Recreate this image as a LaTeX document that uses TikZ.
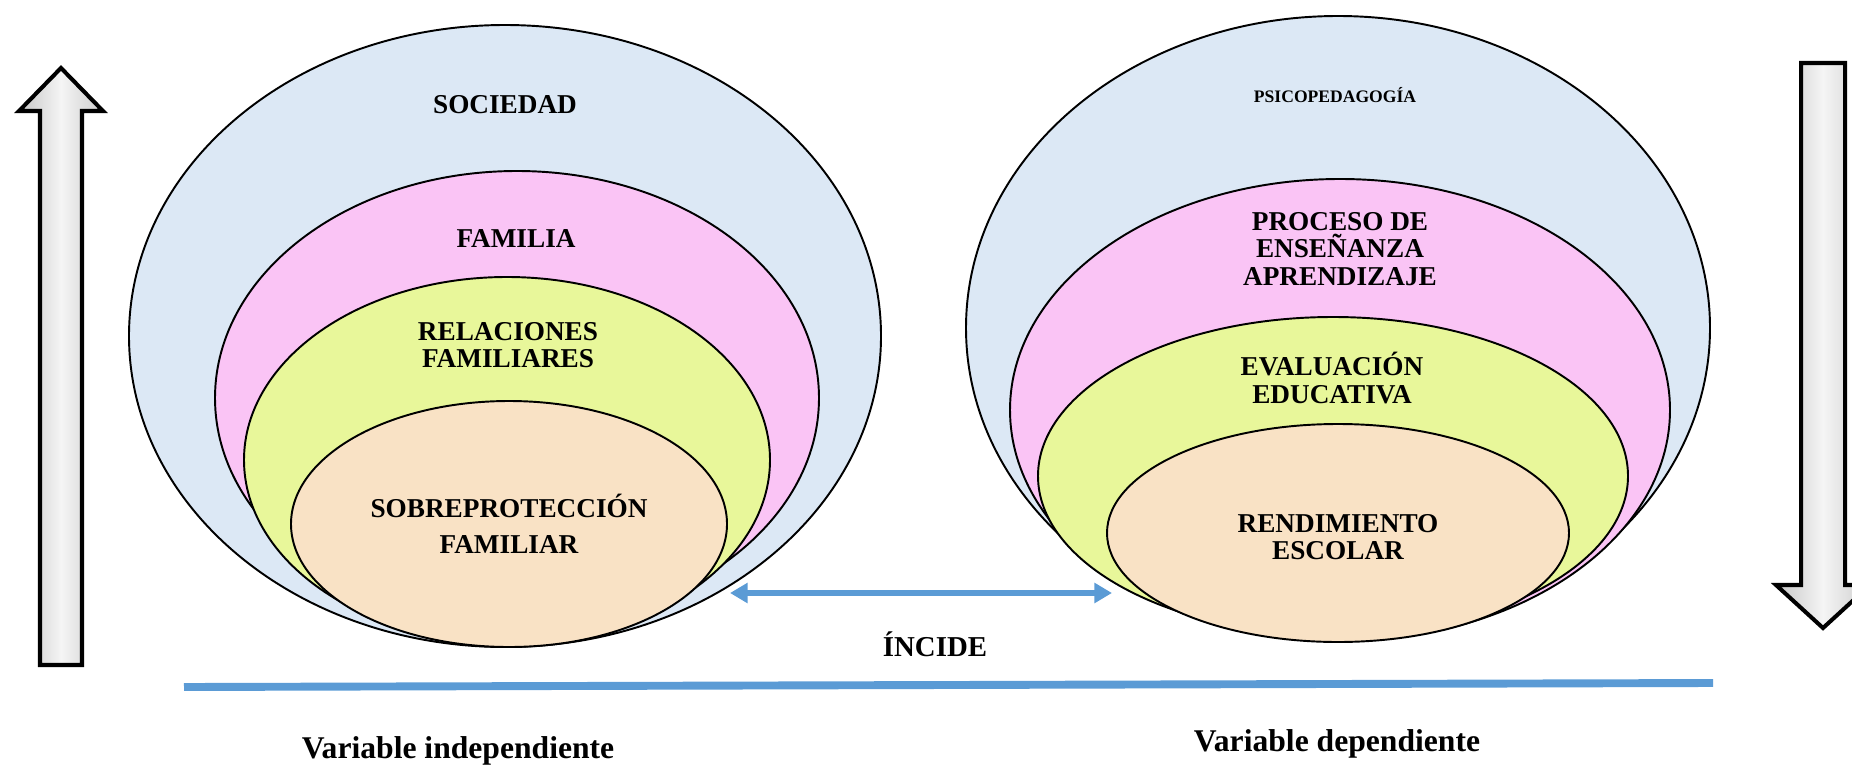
\documentclass[tikz,border=0pt]{standalone}
\usepackage{fontspec}
\setmainfont{Liberation Serif}
\usetikzlibrary{arrows.meta}

\definecolor{azul}{HTML}{DCE8F5}
\definecolor{rosa}{HTML}{FAC4F5}
\definecolor{lima}{HTML}{E8F79A}
\definecolor{durazno}{HTML}{F9E2C5}
\definecolor{linea}{HTML}{5B9BD5}

\tikzset{
  capa/.style={draw=black, line width=1.1pt},
  rotulo/.style={font=\bfseries\fontsize{15.5}{15.5}\selectfont, align=center, inner sep=0pt},
  flecha/.style={draw=black, line width=2.3pt, left color=gray!45, right color=gray!40, middle color=gray!8},
  incide/.style={draw=linea, line width=3.4pt, {Triangle[length=10pt,width=11pt]}-{Triangle[length=10pt,width=11pt]}}
}

\begin{document}
\begin{tikzpicture}[x=0.02cm,y=0.02cm]
\useasboundingbox (0,0) rectangle (1852,769);
% variable independiente
\draw[capa,fill=azul] (505,433) ellipse [x radius=376,y radius=311];
\draw[capa,fill=rosa] (517,371) ellipse [x radius=302,y radius=227];
\draw[capa,fill=lima] (507,309) ellipse [x radius=263,y radius=183];
\draw[capa,fill=durazno] (509,245) ellipse [x radius=218,y radius=123];
\node[rotulo] (soc) at (505,664) {SOCIEDAD};
\node[rotulo] (fam) at (516,530) {FAMILIA};
\node[rotulo] (rel) at (508,424) {RELACIONES\\FAMILIARES};
\node[rotulo,font=\bfseries\fontsize{15.5}{20.5}\selectfont] (sob) at (509,245) {SOBREPROTECCIÓN\\FAMILIAR};
% variable dependiente
\draw[capa,fill=azul] (1338,441) ellipse [x radius=372,y radius=312];
\draw[capa,fill=rosa] (1340,359) ellipse [x radius=330,y radius=231];
\draw[capa,fill=lima] (1333,293) ellipse [x radius=295,y radius=159];
\draw[capa,fill=durazno] (1338,236) ellipse [x radius=231,y radius=109];
\node[rotulo,font=\bfseries\fontsize{10}{10}\selectfont] (psi) at (1335,674) {PSICOPEDAGOGÍA};
\node[rotulo] (pro) at (1340,520) {PROCESO DE\\ENSEÑANZA\\APRENDIZAJE};
\node[rotulo] (eva) at (1332,391) {EVALUACIÓN\\EDUCATIVA};
\node[rotulo] (ren) at (1338,232) {RENDIMIENTO\\ESCOLAR};
% flechas laterales
\draw[flecha] (40,104) -- (40,658) -- (19,658) -- (61,701) -- (103,658) -- (82,658) -- (82,104) -- cycle;
\draw[flecha] (1801,706) -- (1801,184) -- (1776,184) -- (1823,141) -- (1870,184) -- (1845,184) -- (1845,706) -- cycle;
% incide
\coordinate (inciL) at (730,176);
\coordinate (inciR) at (1112,176);
\draw[incide] (inciL) -- (inciR);
\node[rotulo,font=\bfseries\fontsize{16.4}{16.4}\selectfont] (inc) at (935,125) {ÍNCIDE};
\coordinate (baseL) at (184,82);
\coordinate (baseR) at (1713,86);
\draw[draw=linea,line width=4.5pt] (baseL) -- (baseR);
\node[rotulo,font=\bfseries\fontsize{18}{18}\selectfont] (vind) at (458,18) {Variable independiente};
\node[rotulo,font=\bfseries\fontsize{18}{18}\selectfont] (vdep) at (1337,25) {Variable dependiente};
\end{tikzpicture}
\end{document}
